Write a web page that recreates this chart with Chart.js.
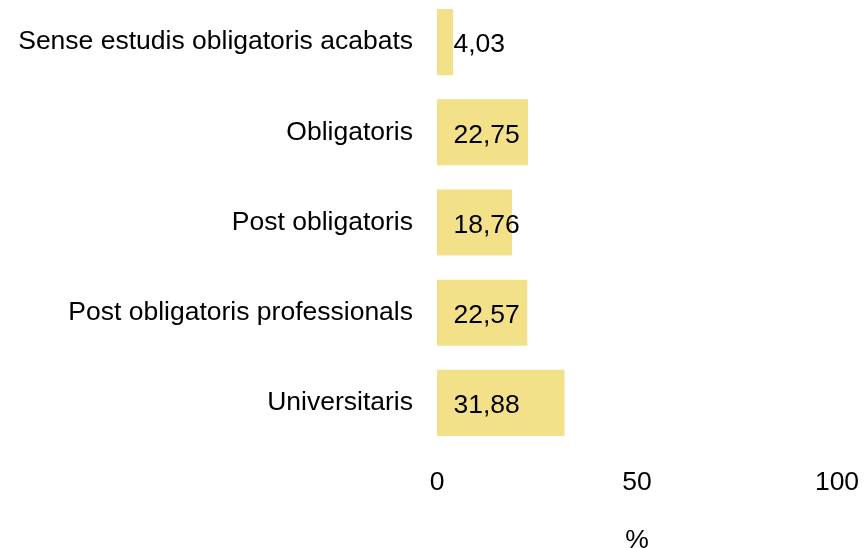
<!DOCTYPE html>
<html>
<head>
<meta charset="utf-8">
<script src="https://cdn.jsdelivr.net/npm/chart.js@4"></script>
<style>
  html, body { margin: 0; padding: 0; background: #fff; overflow: hidden; width: 866px; height: 548px; }
  #wrap { position: absolute; left: 0; top: -3px; width: 866px; height: 560px; }
</style>
</head>
<body>
<div id="wrap"><canvas id="chart" width="866" height="560"></canvas></div>
<script>
// Nivell d'estudis (%)
const categories = [
    'Sense estudis obligatoris acabats',
    'Obligatoris',
    'Post obligatoris',
    'Post obligatoris professionals',
    'Universitaris'
];
const values = [4.03, 22.75, 18.76, 22.57, 31.88];
const xTicks = [0, 50, 100];

const FONT = "'Liberation Sans', Arial, sans-serif";
const SIZE = 26.5;

// value labels drawn inside the bar, near the zero line
const barLabels = {
    id: 'barLabels',
    afterDatasetsDraw(chart) {
        const ctx = chart.ctx;
        const x0 = chart.scales.x.getPixelForValue(0) + 16.5;
        ctx.save();
        ctx.font = SIZE + 'px ' + FONT;
        ctx.fillStyle = '#000';
        ctx.textAlign = 'left';
        ctx.textBaseline = 'middle';
        chart.getDatasetMeta(0).data.forEach((bar, i) => {
            ctx.fillText(values[i].toFixed(2).replace('.', ','), x0, bar.y + 3);
        });
        ctx.restore();
    }
};

new Chart(document.getElementById('chart'), {
    type: 'bar',
    data: {
        labels: categories,
        datasets: [{
            data: values,
            backgroundColor: '#f3e18a',
            borderWidth: 0,
            categoryPercentage: 1,
            barPercentage: 0.733
        }]
    },
    options: {
        indexAxis: 'y',
        responsive: false,
        animation: false,
        layout: { padding: { left: 0, right: 29, top: 0, bottom: 0 } },
        plugins: { legend: { display: false }, tooltip: { enabled: false } },
        scales: {
            x: {
                min: 0,
                max: 100,
                afterBuildTicks: scale => { scale.ticks = xTicks.map(v => ({ value: v })); },
                grid: { display: false, drawTicks: false },
                border: { display: false },
                ticks: { font: { size: SIZE, family: FONT }, color: '#000', padding: 19, maxRotation: 0 },
                title: {
                    display: true,
                    text: '%',
                    font: { size: SIZE, family: FONT },
                    color: '#000',
                    padding: { top: 0, bottom: 0 }
                },
                afterFit: scale => {
                    scale.height = 109;
                    scale.paddingLeft = 0;
                    scale.paddingRight = 0;
                }
            },
            y: {
                grid: { display: false, drawTicks: false },
                border: { display: false },
                ticks: { font: { size: SIZE, family: FONT }, color: '#000', padding: 24 },
                afterFit: scale => {
                    scale.width = 437;
                    scale.paddingTop = 0;
                    scale.paddingBottom = 0;
                }
            }
        }
    },
    plugins: [barLabels]
});
</script>
</body>
</html>
